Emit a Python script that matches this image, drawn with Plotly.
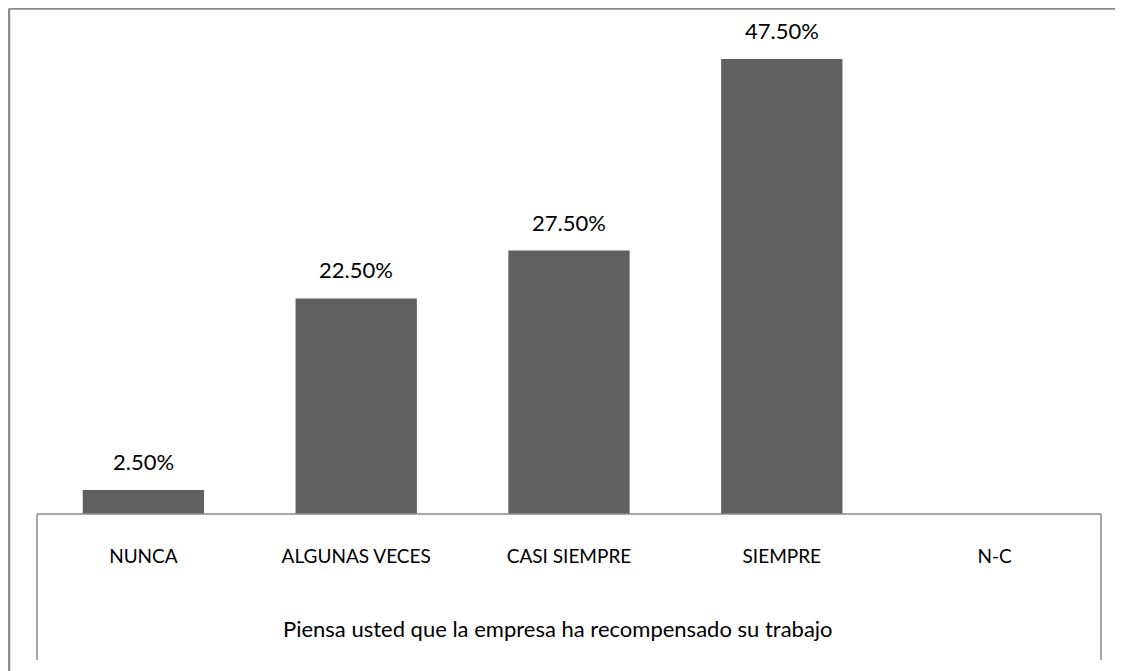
import plotly.graph_objects as go

# Data
categorias = ["NUNCA", "ALGUNAS VECES", "CASI SIEMPRE", "SIEMPRE", "N-C"]
porcentajes = [2.5, 22.5, 27.5, 47.5, None]
titulo_x = "Piensa usted que la empresa ha recompensado su trabajo"

fig = go.Figure()
fig.add_trace(go.Bar(
    x=categorias,
    y=porcentajes,
    marker=dict(color="#606060", line=dict(width=0)),
    hoverinfo="skip",
))

# Value labels above bars
for cat, val in zip(categorias, porcentajes):
    if val is None:
        continue
    fig.add_annotation(
        x=cat, y=val, text=f"{val:.2f}%",
        showarrow=False, yanchor="bottom", yshift=13,
        font=dict(family="Lato", size=22, color="#000000"),
    )

# Axis title as annotation below tick labels
fig.add_annotation(
    x=0.49, y=-0.272, xref="paper", yref="paper", text=titulo_x,
    showarrow=False, font=dict(family="Lato", size=22, color="#000000"),
)

line_in = dict(color="#8a8a8a", width=1.5)
line_out = dict(color="#8a8a8a", width=2.5)
shapes = [
    # category box
    dict(type="line", xref="paper", yref="paper", x0=0, x1=1, y0=0, y1=0, line=line_in),
    dict(type="line", xref="paper", yref="paper", x0=0, x1=0, y0=0, y1=-0.305, line=line_in),
    dict(type="line", xref="paper", yref="paper", x0=1, x1=1, y0=0, y1=-0.305, line=line_in),
    # outer frame (top and left)
    dict(type="line", xref="paper", yref="paper", x0=-0.0263, x1=1.03, y0=1.0553, y1=1.0553, line=line_out),
    dict(type="line", xref="paper", yref="paper", x0=-0.0263, x1=-0.0263, y0=1.0553, y1=-0.34, line=line_out),
]

# page body has an 8px margin, so the figure is sized a bit smaller
fig.update_layout(
    width=1115, height=663,
    margin=dict(l=29, r=22, t=27, b=157),
    paper_bgcolor="white", plot_bgcolor="white",
    bargap=0.43,
    showlegend=False,
    shapes=shapes,
    font=dict(family="Lato", size=19, color="#000000"),
    xaxis=dict(
        showgrid=False, showline=False, ticks="", zeroline=False,
        tickfont=dict(family="Lato", size=19, color="#000000"),
        ticklabelstandoff=29,
    ),
    yaxis=dict(
        range=[0, 50], showgrid=False, showticklabels=False,
        zeroline=False, showline=False, ticks="",
    ),
)

fig.write_html("out.html")
